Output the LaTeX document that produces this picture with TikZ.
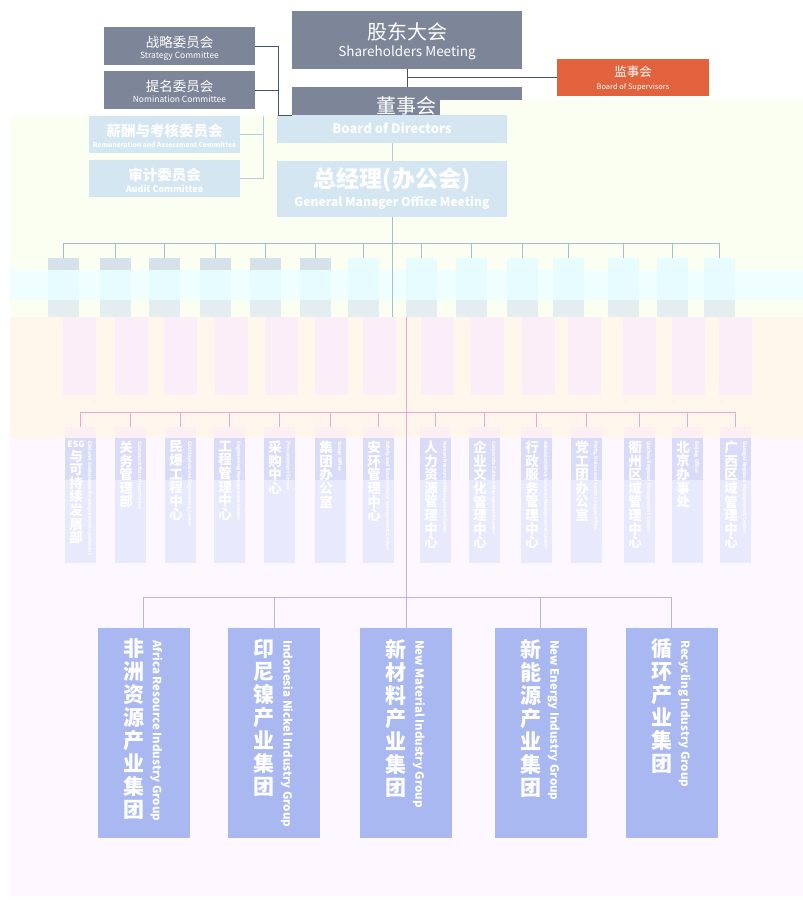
\documentclass[tikz,border=0pt]{standalone}
\usepackage{fontspec}
\setmainfont{Noto Sans CJK SC}
\definecolor{gbox}{HTML}{7D8598}
\definecolor{obox}{HTML}{E1623D}
\definecolor{pbox}{HTML}{D3E6F1}
\definecolor{lbox}{HTML}{A9B8F0}
\definecolor{darkln}{HTML}{44546F}
\definecolor{paleln}{HTML}{B6CADC}
\definecolor{bandA}{HTML}{FAFFF1}
\definecolor{bandC}{HTML}{EFFFFF}
\definecolor{bandP}{HTML}{FFF6EC}
\definecolor{bandL}{HTML}{FDF8FF}
\definecolor{pinkln}{HTML}{E8A6DA}
\definecolor{purpln}{HTML}{B5B5F0}
\definecolor{rowln}{HTML}{A9BBD0}
\definecolor{r1c}{HTML}{E6FCFF}
\definecolor{r1s}{HTML}{D6E2EA}
\definecolor{r1g}{HTML}{E4EDF0}
\definecolor{r1p}{HTML}{FCEEF8}
\definecolor{r2top}{HTML}{D9DCF8}
\definecolor{r2bot}{HTML}{E7E9FC}
\definecolor{r2pk}{HTML}{FDEFF4}
\tikzset{
  boxg/.style={fill=gbox, minimum width=151, minimum height=38},
  boxp/.style={fill=pbox, minimum width=151, minimum height=37},
  wtxt/.style={text=white},
  dline/.style={draw=darkln, line width=1pt},
  pline/.style={draw=paleln, line width=1pt},
}
\begin{document}
\begin{tikzpicture}[x=1pt,y=-1pt, every node/.style={inner sep=0pt, outer sep=0pt}]
\useasboundingbox (0,0) rectangle (803,900);
\fill[white] (0,0) rectangle (803,900);
% background bands
\fill[bandA] (10,115) rectangle (803,270);
\fill[bandA] (440,100) rectangle (803,115);
\fill[bandC] (10,270) rectangle (803,300);
\fill[bandA] (10,300) rectangle (803,317);
\fill[bandP] (10,317) rectangle (803,438);
\fill[bandL] (10,438) rectangle (803,897);

% ---- top level ----
\node[fill=gbox, minimum width=230, minimum height=58] (sh) at (407,40) {};
\node[wtxt, font=\fontsize{20}{22}\selectfont] (shz) at (407,32) {股东大会};
\node[wtxt, font=\fontsize{13.5}{15}\selectfont] (she) at (407,53) {Shareholders Meeting};

\node[fill=obox, minimum width=152, minimum height=37] (sv) at (633,77.5) {};
\node[wtxt, font=\fontsize{12.5}{14}\selectfont] (svz) at (633,72) {监事会};
\node[wtxt, font=\fontsize{7.5}{9}\selectfont] (sve) at (633,87) {Board of Supervisors};

\node[fill=gbox, minimum width=230, minimum height=28] (bd) at (407,101) {};
\fill[bandA] (440,100) rectangle (523,115.5);
\node[fill=pbox, minimum width=230, minimum height=28] (bdb) at (392,129) {};
\node[wtxt, font=\fontsize{20}{22}\selectfont] (bdz) at (406,106) {董事会};
\node[wtxt, font=\bfseries\fontsize{13}{15}\selectfont] (bde) at (392,128) {Board of Directors};

\node[fill=pbox, minimum width=230, minimum height=56] (gm) at (392,189) {};
\node[wtxt, font=\bfseries\fontsize{23}{25}\selectfont] (gmz) at (392,180) {总经理(办公会)};
\node[wtxt, font=\bfseries\fontsize{12.5}{14}\selectfont] (gme) at (392,203) {\resizebox{195pt}{!}{General Manager Office Meeting}};

% committees
\node[boxg] (st) at (179.5,46) {};
\node[wtxt, font=\fontsize{13.5}{15}\selectfont] (stz) at (179.5,42) {战略委员会};
\node[wtxt, font=\fontsize{8.5}{10}\selectfont] (ste) at (179.5,56) {Strategy Committee};
\node[boxg] (nm) at (179.5,90) {};
\node[wtxt, font=\fontsize{13.5}{15}\selectfont] (nmz) at (179.5,86) {提名委员会};
\node[wtxt, font=\fontsize{8.5}{10}\selectfont] (nme) at (179.5,99.5) {Nomination Committee};
\node[boxp] (rm) at (164.5,134.5) {};
\node[wtxt, font=\bfseries\fontsize{14.5}{16}\selectfont] (rmz) at (164.5,131) {薪酬与考核委员会};
\node[wtxt, font=\bfseries\fontsize{7}{8}\selectfont] (rme) at (164.5,145) {\resizebox{143pt}{!}{Remuneration and Assessment Committee}};
\node[boxp] (au) at (164.5,178.5) {};
\node[wtxt, font=\bfseries\fontsize{14.5}{16}\selectfont] (auz) at (164.5,175) {审计委员会};
\node[wtxt, font=\bfseries\fontsize{9}{10}\selectfont] (aue) at (164.5,188.5) {Audit Committee};

% top connectors
\coordinate (cj) at (278,115);
\coordinate (cj2) at (263,116);
\draw[dline] (sh.south) -- (bd.north);
\draw[dline] (sv.west) -- (sv.west -| sh.south);
\draw[dline] (st.east) -| (cj);
\draw[dline] (nm.east) -- (nm.east -| cj);
\draw[dline] (cj) -- (cj -| bd.west);
\draw[pline] (cj2) |- (au.east);
\draw[pline] (rm.east) -- (rm.east -| cj2);
\draw[pline] (bdb.south) -- (gm.north);

% ---- row 1 ----
\coordinate (bus1) at (392,243);
\coordinate (t1) at (392,317);
\coordinate (t2) at (406,317);
\coordinate (t3) at (406,438);
\foreach \x [count=\i] in {63,115,164,215,265,315,363,421,471,522,568,623,672,719} {
  \node[fill=r1c, minimum width=31, minimum height=57] (r1-\i) at (\x,286.5) {};
  \fill[r1g] (\x-15.5,300) rectangle (\x+15.5,317);
  \fill[r1p] (\x,317) rectangle (\x+33,395);
  \ifnum\i<7 \fill[r1s] (\x-15.5,258) rectangle (\x+15.5,270); \fi
  \draw[draw=rowln, line width=1pt] (r1-\i.north) -- (r1-\i.north |- bus1);
}
\draw[draw=rowln, line width=1pt] (r1-1.north |- bus1) -- (r1-14.north |- bus1);
\draw[draw=rowln, line width=1pt] (gm.south) -- (t1);
\draw[draw=pinkln, line width=1pt] (t2) -- (t3);

% ---- row 2 ----
\coordinate (bus2) at (406,412);
\foreach \x/\t/\e [count=\i] in {
  80/{{\fontsize{8.5}{10}\selectfont ESG}\\与\\可\\持\\续\\发\\展\\部}/{ESG and Sustainable Development Department},
  130/{关\\务\\管\\理\\部}/{Customs Affairs Department},
  180/{民\\爆\\工\\程\\中\\心}/{Civil Explosives Engineering Center},
  229/{工\\程\\管\\理\\中\\心}/{Engineering Management Center},
  279/{采\\购\\中\\心}/{Procurement Center},
  330/{集\\团\\办\\公\\室}/{Group Office},
  378/{安\\环\\管\\理\\中\\心}/{Safety and Environment Management Center},
  435/{人\\力\\资\\源\\管\\理\\中\\心}/{Human Resources Management Center},
  484/{企\\业\\文\\化\\管\\理\\中\\心}/{Corporate Culture Management Center},
  536/{行\\政\\服\\务\\管\\理\\中\\心}/{Administrative Services Management Center},
  586/{党\\工\\团\\办\\公\\室}/{Party, Union and Youth League Office},
  639/{衢\\州\\区\\域\\管\\理\\中\\心}/{Quzhou Regional Management Center},
  687/{北\\京\\办\\事\\处}/{Beijing Office},
  735/{广\\西\\区\\域\\管\\理\\中\\心}/{Guangxi Regional Management Center}} {
  \node[fill=r2bot, minimum width=31, minimum height=136] (r2-\i) at (\x,495) {};
  \fill[r2top] (\x-15.5,438) rectangle (\x+15.5,480);
  \fill[r2pk] (\x-15.5,427) rectangle (\x+15.5,438);
  \node[anchor=north, wtxt, align=center, font=\bfseries\fontsize{13.5}{13.6}\selectfont] (r2z-\i) at (\x-4,441) {\t};
  \node[rotate=-90, anchor=west, wtxt, font=\bfseries\fontsize{4.8}{5}\selectfont] (r2e-\i) at (\x+9.5,441) {\e};
  \draw[draw=pinkln, line width=1pt] (r2-\i.north) -- (r2-\i.north |- bus2);
}
\draw[draw=pinkln, line width=1pt] (r2-1.north |- bus2) -- (r2-14.north |- bus2);

% ---- bottom groups ----
\coordinate (bus3) at (406,597);
\foreach \x/\z/\e [count=\i] in {
  143.5/{非\\洲\\资\\源\\产\\业\\集\\团}/{Africa Resource Industry Group},
  274/{印\\尼\\镍\\产\\业\\集\\团}/{Indonesia Nickel Industry Group},
  406/{新\\材\\料\\产\\业\\集\\团}/{New Material Industry Group},
  540.5/{新\\能\\源\\产\\业\\集\\团}/{New Energy Industry Group},
  671.5/{循\\环\\产\\业\\集\\团}/{Recycling Industry Group}} {
  \node[fill=lbox, minimum width=92, minimum height=210] (b\i) at (\x,733) {};
  \node[anchor=north, wtxt, align=center, font=\bfseries\fontsize{21}{23}\selectfont] (bz\i) at (\x-10,639) {\z};
  \node[rotate=-90, anchor=west, wtxt, font=\bfseries\fontsize{11.5}{12}\selectfont] (be\i) at (\x+13,640) {\e};
  \draw[draw=purpln, line width=1pt] (b\i.north) -- (b\i.north |- bus3);
}
\draw[draw=purpln, line width=1pt] (b1.north |- bus3) -- (b5.north |- bus3);
\draw[draw=purpln, line width=1pt] (t3) -- (b3.north);
\end{tikzpicture}
\end{document}
